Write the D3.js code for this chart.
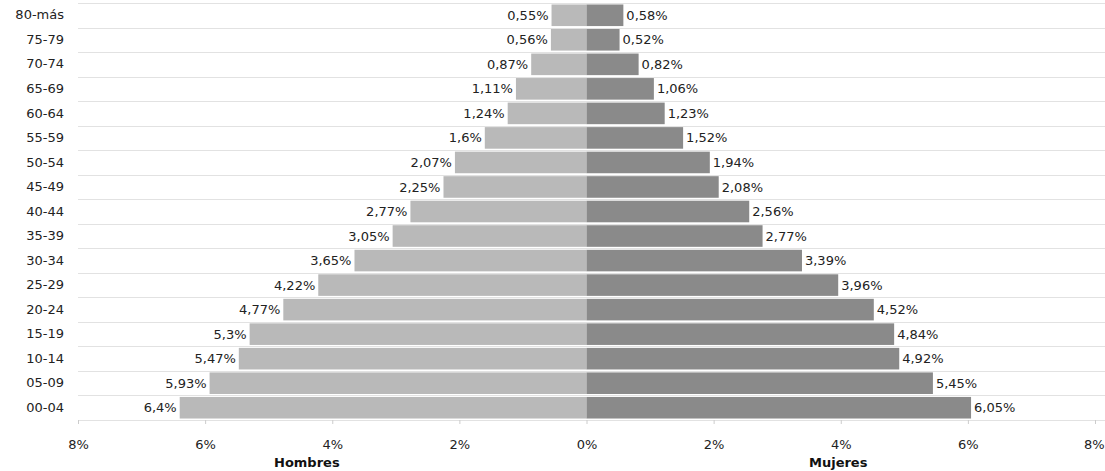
<!DOCTYPE html>
<html>
<head>
<meta charset="utf-8">
<script src="https://cdn.jsdelivr.net/npm/d3@7"></script>
<style>
  html, body { margin: 0; padding: 0; background: #fff; }
  svg { display: block; font-family: "DejaVu Sans", sans-serif; }
</style>
</head>
<body>
<svg id="chart" width="1105" height="471"></svg>
<script>
// Age groups, top to bottom
const ageGroups = ["80-más","75-79","70-74","65-69","60-64","55-59","50-54","45-49","40-44","35-39","30-34","25-29","20-24","15-19","10-14","05-09","00-04"];
// Percent of population (men / women), same order
const hombres = [0.55, 0.56, 0.87, 1.11, 1.24, 1.6, 2.07, 2.25, 2.77, 3.05, 3.65, 4.22, 4.77, 5.3, 5.47, 5.93, 6.4];
const mujeres = [0.58, 0.52, 0.82, 1.06, 1.23, 1.52, 1.94, 2.08, 2.56, 2.77, 3.39, 3.96, 4.52, 4.84, 4.92, 5.45, 6.05];
const tickValues = [-8, -6, -4, -2, 0, 2, 4, 6, 8];
const sideTitles = ["Hombres", "Mujeres"];

const W = 1105, H = 471;
const svg = d3.select("#chart");

const x = d3.scaleLinear().domain([-8, 8]).range([78, 1095]);
const y = d3.scaleBand().domain(ageGroups).range([3, 420]).paddingInner(0.12).paddingOuter(0.06);

const fmt = v => String(v).replace(".", ",") + "%";

// horizontal grid lines at band boundaries
const gridYs = ageGroups.map(a => y(a) - y.step() * y.paddingInner() / 2).concat([y(ageGroups[ageGroups.length - 1]) + y.bandwidth() + y.step() * y.paddingInner() / 2]);
svg.append("g").selectAll("line").data(gridYs).join("line")
  .attr("x1", x(-8)).attr("x2", W)
  .attr("y1", d => Math.round(d) + 0.5).attr("y2", d => Math.round(d) + 0.5)
  .attr("stroke", "#e2e2e2").attr("stroke-width", 1);

const rows = ageGroups.map((a, i) => ({ age: a, m: hombres[i], f: mujeres[i] }));

// men bars
svg.append("g").selectAll("rect").data(rows).join("rect")
  .attr("x", d => x(-d.m)).attr("width", d => x(0) - x(-d.m))
  .attr("y", d => y(d.age)).attr("height", y.bandwidth())
  .attr("fill", "#b9b9b9");
// women bars
svg.append("g").selectAll("rect").data(rows).join("rect")
  .attr("x", x(0)).attr("width", d => x(d.f) - x(0))
  .attr("y", d => y(d.age)).attr("height", y.bandwidth())
  .attr("fill", "#8a8a8a");

// value labels
svg.append("g").selectAll("text").data(rows).join("text")
  .attr("x", d => x(-d.m) - 3).attr("y", d => y(d.age) + y.bandwidth() / 2)
  .attr("dy", "0.35em").attr("text-anchor", "end")
  .attr("font-size", 13).attr("fill", "#222").text(d => fmt(d.m));
svg.append("g").selectAll("text").data(rows).join("text")
  .attr("x", d => x(d.f) + 3).attr("y", d => y(d.age) + y.bandwidth() / 2)
  .attr("dy", "0.35em").attr("text-anchor", "start")
  .attr("font-size", 13).attr("fill", "#222").text(d => fmt(d.f));

// y axis labels
const yAxis = d3.axisLeft(y).tickSize(0).tickPadding(0);
const gy = svg.append("g").attr("transform", "translate(64,0)").call(yAxis);
gy.select(".domain").remove();
gy.selectAll("text").attr("font-size", 13).attr("fill", "#222").attr("font-family", "DejaVu Sans, sans-serif");

// x axis
const xAxis = d3.axisBottom(x).tickValues(tickValues).tickSize(4).tickPadding(16)
  .tickFormat(v => Math.abs(v) + "%");
const gx = svg.append("g").attr("transform", "translate(0,420)").call(xAxis);
gx.select(".domain").remove();
gx.selectAll(".tick line").attr("stroke", "#ccc");
gx.selectAll("text").attr("font-size", 13).attr("fill", "#222").attr("font-family", "DejaVu Sans, sans-serif");
// keep the last tick label inside the frame
gx.selectAll(".tick text").filter(v => v === 8).attr("text-anchor", "end").attr("dx", 9);

// side titles
svg.append("g").selectAll("text").data(sideTitles).join("text")
  .attr("x", (d, i) => i === 0 ? x(-4.4) : x(3.96))
  .attr("y", 467).attr("text-anchor", "middle")
  .attr("font-size", 13).attr("font-weight", "bold").attr("fill", "#111")
  .text(d => d);
</script>
</body>
</html>
